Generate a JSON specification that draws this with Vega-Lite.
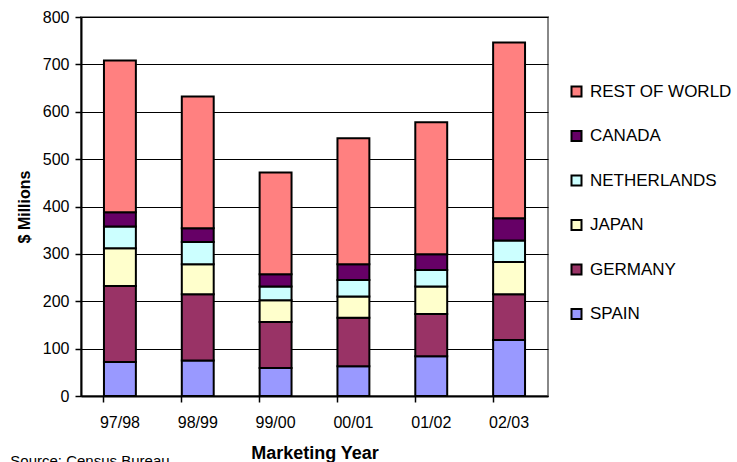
{
  "$schema": "https://vega.github.io/schema/vega-lite/v6.json",
  "width": 467,
  "height": 379,
  "autosize": {"type": "none"},
  "padding": {"left": 81, "top": 17, "right": 189, "bottom": 66},
  "background": "white",
  "config": {
    "font": "Liberation Sans",
    "view": {"stroke": "#888888", "strokeWidth": 2}
  },
  "title": {
    "text": "Source: Census Bureau",
    "orient": "bottom",
    "anchor": "start",
    "frame": "bounds",
    "font": "Liberation Sans",
    "fontSize": 15,
    "fontWeight": "normal",
    "color": "black",
    "offset": -8,
    "dx": -6
  },
  "data": {
    "values": [
      {"year": "97/98", "country": "SPAIN", "rank": 1, "value": 72},
      {"year": "97/98", "country": "GERMANY", "rank": 2, "value": 160},
      {"year": "97/98", "country": "JAPAN", "rank": 3, "value": 80},
      {"year": "97/98", "country": "NETHERLANDS", "rank": 4, "value": 46},
      {"year": "97/98", "country": "CANADA", "rank": 5, "value": 30},
      {"year": "97/98", "country": "REST OF WORLD", "rank": 6, "value": 320},
      {"year": "98/99", "country": "SPAIN", "rank": 1, "value": 75},
      {"year": "98/99", "country": "GERMANY", "rank": 2, "value": 140},
      {"year": "98/99", "country": "JAPAN", "rank": 3, "value": 63},
      {"year": "98/99", "country": "NETHERLANDS", "rank": 4, "value": 47},
      {"year": "98/99", "country": "CANADA", "rank": 5, "value": 29},
      {"year": "98/99", "country": "REST OF WORLD", "rank": 6, "value": 278},
      {"year": "99/00", "country": "SPAIN", "rank": 1, "value": 59},
      {"year": "99/00", "country": "GERMANY", "rank": 2, "value": 97},
      {"year": "99/00", "country": "JAPAN", "rank": 3, "value": 46},
      {"year": "99/00", "country": "NETHERLANDS", "rank": 4, "value": 29},
      {"year": "99/00", "country": "CANADA", "rank": 5, "value": 26},
      {"year": "99/00", "country": "REST OF WORLD", "rank": 6, "value": 215},
      {"year": "00/01", "country": "SPAIN", "rank": 1, "value": 63},
      {"year": "00/01", "country": "GERMANY", "rank": 2, "value": 102},
      {"year": "00/01", "country": "JAPAN", "rank": 3, "value": 45},
      {"year": "00/01", "country": "NETHERLANDS", "rank": 4, "value": 35},
      {"year": "00/01", "country": "CANADA", "rank": 5, "value": 33},
      {"year": "00/01", "country": "REST OF WORLD", "rank": 6, "value": 266},
      {"year": "01/02", "country": "SPAIN", "rank": 1, "value": 84},
      {"year": "01/02", "country": "GERMANY", "rank": 2, "value": 89},
      {"year": "01/02", "country": "JAPAN", "rank": 3, "value": 58},
      {"year": "01/02", "country": "NETHERLANDS", "rank": 4, "value": 35},
      {"year": "01/02", "country": "CANADA", "rank": 5, "value": 33},
      {"year": "01/02", "country": "REST OF WORLD", "rank": 6, "value": 279},
      {"year": "02/03", "country": "SPAIN", "rank": 1, "value": 118},
      {"year": "02/03", "country": "GERMANY", "rank": 2, "value": 97},
      {"year": "02/03", "country": "JAPAN", "rank": 3, "value": 68},
      {"year": "02/03", "country": "NETHERLANDS", "rank": 4, "value": 45},
      {"year": "02/03", "country": "CANADA", "rank": 5, "value": 47},
      {"year": "02/03", "country": "REST OF WORLD", "rank": 6, "value": 371}
    ]
  },
  "mark": {"type": "bar", "stroke": "black", "strokeWidth": 2, "opacity": 1},
  "encoding": {
    "x": {
      "field": "year",
      "type": "nominal",
      "sort": null,
      "scale": {"paddingInner": 0.59, "paddingOuter": 0.295},
      "axis": {
        "title": "Marketing Year",
        "titleFont": "Liberation Sans",
        "titleFontSize": 18,
        "titleFontWeight": "bold",
        "titleColor": "black",
        "titlePadding": 14,
        "labelAngle": 0,
        "labelFontSize": 16,
        "labelColor": "black",
        "labelPadding": 12,
        "bandPosition": 0,
        "tickColor": "black",
        "tickWidth": 1.5,
        "tickSize": 6,
        "domainColor": "black",
        "domainWidth": 2,
        "grid": false
      }
    },
    "y": {
      "field": "value",
      "type": "quantitative",
      "aggregate": "sum",
      "stack": "zero",
      "scale": {"domain": [0, 800], "nice": false},
      "axis": {
        "title": "$ Millions",
        "titleFont": "Liberation Sans",
        "titleFontSize": 16,
        "titleFontWeight": "bold",
        "titleColor": "black",
        "titlePadding": 10,
        "values": [0, 100, 200, 300, 400, 500, 600, 700, 800],
        "labelFontSize": 16,
        "labelColor": "black",
        "labelPadding": 6,
        "tickColor": "black",
        "tickWidth": 1.5,
        "tickSize": 6,
        "domainColor": "black",
        "domainWidth": 2,
        "grid": true,
        "gridColor": "black",
        "gridWidth": 1,
        "gridOpacity": 1
      }
    },
    "color": {
      "field": "country",
      "type": "nominal",
      "scale": {
        "domain": ["REST OF WORLD", "CANADA", "NETHERLANDS", "JAPAN", "GERMANY", "SPAIN"],
        "range": ["#FF8080", "#660066", "#CCFFFF", "#FFFFCC", "#993366", "#9999FF"]
      },
      "legend": {
        "title": null,
        "orient": "none",
        "legendX": 487,
        "legendY": 66,
        "symbolType": "square",
        "symbolSize": 100,
        "symbolStrokeColor": "black",
        "symbolStrokeWidth": 2,
        "symbolOpacity": 1,
        "labelFont": "Liberation Sans",
        "labelFontSize": 17,
        "labelColor": "black",
        "labelOffset": 5,
        "rowPadding": 25.5,
        "labelLimit": 300
      }
    },
    "order": {"field": "rank", "type": "quantitative", "sort": "ascending"}
  }
}
